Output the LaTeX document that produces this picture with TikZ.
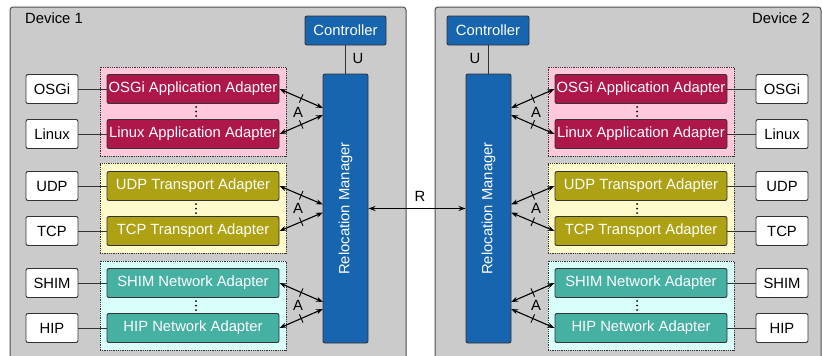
\documentclass[tikz,border=0pt]{standalone}
\usepackage{fontspec}
\setmainfont{Liberation Sans}
\usetikzlibrary{arrows.meta,decorations.markings}
\definecolor{devbg}{HTML}{CBCBCB}
\definecolor{devline}{HTML}{505050}
\definecolor{mblue}{HTML}{1764AF}
\definecolor{appc}{HTML}{AE1749}
\definecolor{trc}{HTML}{AEA214}
\definecolor{netc}{HTML}{46B0A3}
\definecolor{pinkbg}{HTML}{FFC8DC}
\definecolor{yellowbg}{HTML}{FFFACC}
\definecolor{cyanbg}{HTML}{D8FFFA}
\definecolor{edge}{HTML}{333333}
\tikzset{
  device/.style={draw=devline, fill=devbg, line width=1pt, rounded corners=3pt},
  ext/.style={draw=edge, fill=white, line width=0.9pt, rounded corners=2pt, minimum width=52pt, minimum height=29pt, inner sep=0pt},
  adapter/.style={draw=edge, line width=0.9pt, rounded corners=2pt, minimum width=172pt, minimum height=29pt, inner sep=0.5pt, text=white},
  appbox/.style={adapter, fill=appc},
  trbox/.style={adapter, fill=trc},
  netbox/.style={adapter, fill=netc},
  group/.style={draw=edge, densely dotted, line width=0.8pt, minimum width=186pt, inner sep=0pt},
  bluebox/.style={draw=edge, fill=mblue, line width=0.9pt, rounded corners=2pt, inner sep=0pt, text=white},
  lbl/.style={inner sep=0pt, text=black},
  link/.style={draw=edge, line width=1pt},
  aarrow/.style={{Stealth[length=7pt,width=5pt]}-{Stealth[length=7pt,width=5pt]}, line width=1.1pt, black},
  tick/.style={postaction={decorate}, decoration={markings, mark=at position 0.5 with {\draw[arrows=-, line width=0.9pt] (0,-4.5pt) -- (0,4.5pt);}}},
  dotv/.style={fill=black, inner sep=0pt, minimum size=2pt, circle}
}
\begin{document}
\begin{tikzpicture}[x=1pt,y=-1pt,font=\fontsize{14.8}{17}\selectfont]
\useasboundingbox (0,0) rectangle (822,356);
\begin{scope}
\clip (0,0) rectangle (822,356);
\draw[device] (10,7) rectangle (406,380);
\draw[device] (435,7) rectangle (821,380);
\end{scope}
\node[lbl, anchor=west] (dev1) at (25,18) {Device 1};
\node[lbl, anchor=east] (dev2) at (810,18) {Device 2};

% ---------- Device 1 ----------
\node[group, fill=pinkbg, minimum height=89pt] (g1a) at (193,111.5) {};
\node[group, fill=yellowbg, minimum height=90pt] (g1b) at (193,208) {};
\node[group, fill=cyanbg, minimum height=89pt] (g1c) at (193,305.5) {};

\node[appbox] (oa1) at (193,89) {OSGi Application Adapter};
\node[appbox] (la1) at (193,134) {Linux Application Adapter};
\node[trbox] (ua1) at (193,186) {UDP Transport Adapter};
\node[trbox] (ta1) at (193,231) {TCP Transport Adapter};
\node[netbox] (sa1) at (193,283) {SHIM Network Adapter};
\node[netbox] (ha1) at (193,328) {HIP Network Adapter};

\foreach \yy [count=\i] in {111.5,208.5,305.5}{
  \node[dotv] (d1a\i) at (196,\yy-4.5) {};
  \node[dotv] (d1b\i) at (196,\yy) {};
  \node[dotv] (d1c\i) at (196,\yy+4.5) {};
}

\node[ext] (osgi1) at (52,89) {OSGi};
\node[ext] (linux1) at (52,134) {Linux};
\node[ext] (udp1) at (52,186) {UDP};
\node[ext] (tcp1) at (52,231) {TCP};
\node[ext] (shim1) at (52,283) {SHIM};
\node[ext] (hip1) at (52,328) {HIP};

\draw[link] (osgi1) -- (oa1);
\draw[link] (linux1) -- (la1);
\draw[link] (udp1) -- (ua1);
\draw[link] (tcp1) -- (ta1);
\draw[link] (shim1) -- (sa1);
\draw[link] (hip1) -- (ha1);

\node[bluebox, minimum width=81pt, minimum height=29pt] (ctl1) at (345.5,30.5) {Controller};
\node[bluebox, minimum width=45pt, minimum height=269pt] (rm1) at (345.5,208.5) {};
\node[lbl, rotate=90, text=white] (rm1t) at (rm1.center) {Relocation Manager};
\draw[link] (ctl1.south) -- (rm1.north);
\node[lbl] (u1) at (358,58) {U};

\coordinate (p1a) at (323,108);
\coordinate (p1b) at (323,115);
\coordinate (p1c) at (323,204.5);
\coordinate (p1d) at (323,212.5);
\coordinate (p1e) at (323,302);
\coordinate (p1f) at (323,309);
\draw[aarrow, tick] (oa1.east) -- (p1a);
\draw[aarrow, tick] (la1.east) -- (p1b);
\draw[aarrow, tick] (ua1.east) -- (p1c);
\draw[aarrow, tick] (ta1.east) -- (p1d);
\draw[aarrow, tick] (sa1.east) -- (p1e);
\draw[aarrow, tick] (ha1.east) -- (p1f);
\node[lbl] (A1a) at (298,112) {A};
\node[lbl] (A1b) at (298,208.5) {A};
\node[lbl] (A1c) at (298,305.5) {A};

% ---------- Device 2 ----------
\node[group, fill=pinkbg, minimum height=89pt] (g2a) at (641,111.5) {};
\node[group, fill=yellowbg, minimum height=90pt] (g2b) at (641,208) {};
\node[group, fill=cyanbg, minimum height=89pt] (g2c) at (641,305.5) {};

\node[appbox] (oa2) at (641,89) {OSGi Application Adapter};
\node[appbox] (la2) at (641,134) {Linux Application Adapter};
\node[trbox] (ua2) at (641,186) {UDP Transport Adapter};
\node[trbox] (ta2) at (641,231) {TCP Transport Adapter};
\node[netbox] (sa2) at (641,283) {SHIM Network Adapter};
\node[netbox] (ha2) at (641,328) {HIP Network Adapter};

\foreach \yy [count=\i] in {111.5,208.5,305.5}{
  \node[dotv] (d2a\i) at (637,\yy-4.5) {};
  \node[dotv] (d2b\i) at (637,\yy) {};
  \node[dotv] (d2c\i) at (637,\yy+4.5) {};
}

\node[ext] (osgi2) at (782,89) {OSGi};
\node[ext] (linux2) at (782,134) {Linux};
\node[ext] (udp2) at (782,186) {UDP};
\node[ext] (tcp2) at (782,231) {TCP};
\node[ext] (shim2) at (782,283) {SHIM};
\node[ext] (hip2) at (782,328) {HIP};

\draw[link] (oa2) -- (osgi2);
\draw[link] (la2) -- (linux2);
\draw[link] (ua2) -- (udp2);
\draw[link] (ta2) -- (tcp2);
\draw[link] (sa2) -- (shim2);
\draw[link] (ha2) -- (hip2);

\node[bluebox, minimum width=82pt, minimum height=29pt] (ctl2) at (488,30.5) {Controller};
\node[bluebox, minimum width=45pt, minimum height=269pt] (rm2) at (488.5,208.5) {};
\node[lbl, rotate=90, text=white] (rm2t) at (rm2.center) {Relocation Manager};
\draw[link] (ctl2.south) -- (ctl2.south |- rm2.north);
\node[lbl] (u2) at (475,58) {U};

\coordinate (p2a) at (511,108);
\coordinate (p2b) at (511,115);
\coordinate (p2c) at (511,204.5);
\coordinate (p2d) at (511,212.5);
\coordinate (p2e) at (511,302);
\coordinate (p2f) at (511,309);
\draw[aarrow, tick] (p2a) -- (oa2.west);
\draw[aarrow, tick] (p2b) -- (la2.west);
\draw[aarrow, tick] (p2c) -- (ua2.west);
\draw[aarrow, tick] (p2d) -- (ta2.west);
\draw[aarrow, tick] (p2e) -- (sa2.west);
\draw[aarrow, tick] (p2f) -- (ha2.west);
\node[lbl] (A2a) at (536,112) {A};
\node[lbl] (A2b) at (536,208.5) {A};
\node[lbl] (A2c) at (536,305.5) {A};

% ---------- R ----------
\draw[aarrow] (rm1.east) -- (rm2.west);
\node[lbl] (r) at (420,196) {R};
\end{tikzpicture}
\end{document}
